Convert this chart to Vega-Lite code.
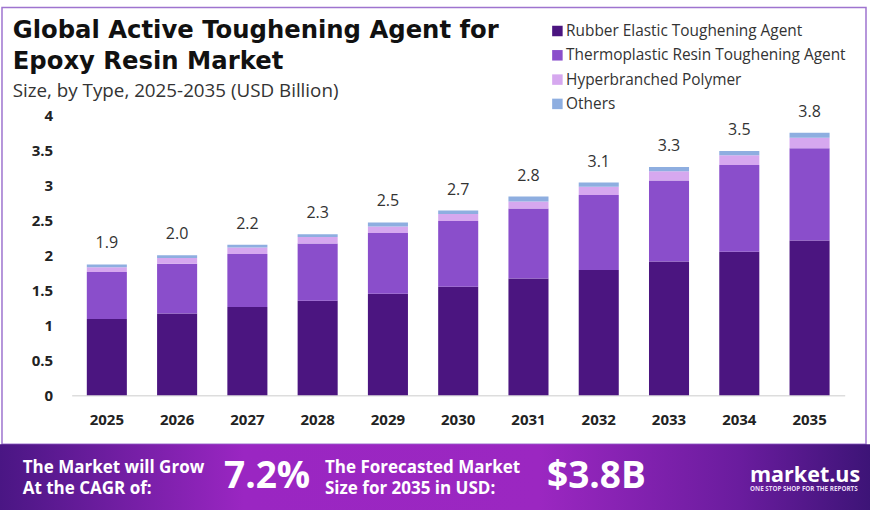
{
  "$schema": "https://vega.github.io/schema/vega-lite/v6.json",
  "width": 773,
  "height": 280,
  "autosize": "none",
  "padding": {"left": 71.7, "top": 115.3, "right": 25.3, "bottom": 128.7},
  "background": "white",
  "config": {
    "view": {"stroke": null},
    "font": "Open Sans",
    "axisY": {"labelOverlap": false, "labelFontSize": 15, "labelFontWeight": "bold", "labelColor": "#222222", "labelPadding": 19, "grid": false, "domain": false, "ticks": false}
  },
  "title": {
    "text": ["Global Active Toughening Agent for", "Epoxy Resin Market"],
    "subtitle": "Size, by Type, 2025-2035 (USD Billion)",
    "anchor": "start",
    "frame": "group",
    "dx": -59,
    "dy": 104,
    "fontSize": 24.3,
    "fontWeight": "bold",
    "font": "DejaVu Sans",
    "color": "#111111",
    "lineHeight": 31,
    "subtitleFontSize": 18.8,
    "subtitleFont": "Open Sans",
    "subtitleColor": "#333333",
    "subtitlePadding": 8,
    "offset": 10
  },
  "datasets": {
    "segments": [
      {"year": "2025", "type": "Rubber Elastic Toughening Agent", "value": 1.09},
      {"year": "2025", "type": "Thermoplastic Resin Toughening Agent", "value": 0.67},
      {"year": "2025", "type": "Hyperbranched Polymer", "value": 0.07},
      {"year": "2025", "type": "Others", "value": 0.04},
      {"year": "2026", "type": "Rubber Elastic Toughening Agent", "value": 1.17},
      {"year": "2026", "type": "Thermoplastic Resin Toughening Agent", "value": 0.71},
      {"year": "2026", "type": "Hyperbranched Polymer", "value": 0.08},
      {"year": "2026", "type": "Others", "value": 0.04},
      {"year": "2027", "type": "Rubber Elastic Toughening Agent", "value": 1.26},
      {"year": "2027", "type": "Thermoplastic Resin Toughening Agent", "value": 0.76},
      {"year": "2027", "type": "Hyperbranched Polymer", "value": 0.09},
      {"year": "2027", "type": "Others", "value": 0.04},
      {"year": "2028", "type": "Rubber Elastic Toughening Agent", "value": 1.35},
      {"year": "2028", "type": "Thermoplastic Resin Toughening Agent", "value": 0.82},
      {"year": "2028", "type": "Hyperbranched Polymer", "value": 0.09},
      {"year": "2028", "type": "Others", "value": 0.04},
      {"year": "2029", "type": "Rubber Elastic Toughening Agent", "value": 1.45},
      {"year": "2029", "type": "Thermoplastic Resin Toughening Agent", "value": 0.87},
      {"year": "2029", "type": "Hyperbranched Polymer", "value": 0.09},
      {"year": "2029", "type": "Others", "value": 0.06},
      {"year": "2030", "type": "Rubber Elastic Toughening Agent", "value": 1.55},
      {"year": "2030", "type": "Thermoplastic Resin Toughening Agent", "value": 0.94},
      {"year": "2030", "type": "Hyperbranched Polymer", "value": 0.10},
      {"year": "2030", "type": "Others", "value": 0.05},
      {"year": "2031", "type": "Rubber Elastic Toughening Agent", "value": 1.67},
      {"year": "2031", "type": "Thermoplastic Resin Toughening Agent", "value": 1.00},
      {"year": "2031", "type": "Hyperbranched Polymer", "value": 0.10},
      {"year": "2031", "type": "Others", "value": 0.07},
      {"year": "2032", "type": "Rubber Elastic Toughening Agent", "value": 1.79},
      {"year": "2032", "type": "Thermoplastic Resin Toughening Agent", "value": 1.07},
      {"year": "2032", "type": "Hyperbranched Polymer", "value": 0.12},
      {"year": "2032", "type": "Others", "value": 0.06},
      {"year": "2033", "type": "Rubber Elastic Toughening Agent", "value": 1.91},
      {"year": "2033", "type": "Thermoplastic Resin Toughening Agent", "value": 1.16},
      {"year": "2033", "type": "Hyperbranched Polymer", "value": 0.13},
      {"year": "2033", "type": "Others", "value": 0.06},
      {"year": "2034", "type": "Rubber Elastic Toughening Agent", "value": 2.05},
      {"year": "2034", "type": "Thermoplastic Resin Toughening Agent", "value": 1.24},
      {"year": "2034", "type": "Hyperbranched Polymer", "value": 0.14},
      {"year": "2034", "type": "Others", "value": 0.06},
      {"year": "2035", "type": "Rubber Elastic Toughening Agent", "value": 2.21},
      {"year": "2035", "type": "Thermoplastic Resin Toughening Agent", "value": 1.32},
      {"year": "2035", "type": "Hyperbranched Polymer", "value": 0.15},
      {"year": "2035", "type": "Others", "value": 0.07}
    ],
    "totals": [
      {"year": "2025", "total": 1.87, "label": "1.9"},
      {"year": "2026", "total": 2.00, "label": "2.0"},
      {"year": "2027", "total": 2.15, "label": "2.2"},
      {"year": "2028", "total": 2.30, "label": "2.3"},
      {"year": "2029", "total": 2.47, "label": "2.5"},
      {"year": "2030", "total": 2.64, "label": "2.7"},
      {"year": "2031", "total": 2.84, "label": "2.8"},
      {"year": "2032", "total": 3.04, "label": "3.1"},
      {"year": "2033", "total": 3.26, "label": "3.3"},
      {"year": "2034", "total": 3.49, "label": "3.5"},
      {"year": "2035", "total": 3.75, "label": "3.8"}
    ],
    "frame": [{"part": "frame"}],
    "banner": [{"part": "banner"}],
    "bannerLabels": [
      {"slot": "a", "part": "banner", "text": "The Market will Grow\nAt the CAGR of:"},
      {"slot": "c", "part": "banner", "text": "The Forecasted Market\nSize for 2035 in USD:"}
    ],
    "bannerFigures": [
      {"slot": "b", "part": "banner", "text": "7.2%"},
      {"slot": "d", "part": "banner", "text": "$3.8B"}
    ],
    "brand": [{"slot": "e", "part": "banner", "text": "market.us"}],
    "tagline": [{"slot": "e", "part": "banner", "text": "ONE STOP SHOP FOR THE REPORTS"}]
  },
  "layer": [
    {
      "layer": [
        {
          "data": {"name": "segments"},
          "transform": [
            {"calculate": "indexof(['Rubber Elastic Toughening Agent', 'Thermoplastic Resin Toughening Agent', 'Hyperbranched Polymer', 'Others'], datum.type)", "as": "rank"}
          ],
          "mark": {"type": "bar"},
          "encoding": {
            "x": {
              "field": "year",
              "type": "ordinal",
              "scale": {"paddingInner": 0.43, "paddingOuter": 0.215},
              "axis": {
                "title": null,
                "labelAngle": 0,
                "labelFontSize": 15,
                "labelFontWeight": "bold",
                "labelColor": "#222222",
                "labelPadding": 17,
                "ticks": false,
                "domainColor": "#dddddd",
                "domainWidth": 1.5
              }
            },
            "y": {
              "field": "value",
              "type": "quantitative",
              "stack": "zero",
              "scale": {"domain": [0, 4], "nice": false},
              "axis": {
                "title": null,
                "values": [0, 0.5, 1, 1.5, 2, 2.5, 3, 3.5, 4],
                "format": "~g",
                "labelOverlap": false
              }
            },
            "color": {
              "field": "type",
              "type": "nominal",
              "sort": ["Rubber Elastic Toughening Agent", "Thermoplastic Resin Toughening Agent", "Hyperbranched Polymer", "Others"],
              "scale": {
                "domain": ["Rubber Elastic Toughening Agent", "Thermoplastic Resin Toughening Agent", "Hyperbranched Polymer", "Others"],
                "range": ["#4b1580", "#8a4ecb", "#d6a8ef", "#8eaee0"]
              },
              "legend": {
                "title": null,
                "orient": "none",
                "legendX": 478,
                "legendY": -92,
                "symbolType": "square",
                "symbolSize": 110,
                "symbolStrokeWidth": 0,
                "labelFontSize": 15.4,
                "labelColor": "#333333",
                "labelOffset": 1,
                "labelLimit": 0,
                "rowPadding": 7.3
              }
            },
            "order": {"field": "rank", "type": "quantitative", "sort": "ascending"}
          }
        },
        {
          "data": {"name": "totals"},
          "mark": {"type": "text", "dy": -16, "baseline": "alphabetic", "fontSize": 16, "color": "#333333"},
          "encoding": {
            "x": {"field": "year", "type": "ordinal"},
            "y": {
              "field": "total",
              "type": "quantitative",
              "axis": {
                "title": null,
                "values": [0, 0.5, 1, 1.5, 2, 2.5, 3, 3.5, 4],
                "format": "~g",
                "labelOverlap": false
              }
            },
            "text": {"field": "label"}
          }
        }
      ]
    },
    {
      "data": {"name": "frame"},
      "mark": {"type": "rect", "fill": null, "stroke": "#9e74cf", "strokeWidth": 1.5},
      "encoding": {
        "x": {"field": "part", "type": "nominal", "scale": {"range": [-69.7, 794.3], "paddingInner": 0, "paddingOuter": 0}, "axis": null},
        "y": {"field": "part", "type": "nominal", "scale": {"range": [-107.8, 329], "paddingInner": 0, "paddingOuter": 0}, "axis": null}
      }
    },
    {
      "data": {"name": "banner"},
      "mark": {
        "type": "rect",
        "fill": {
          "gradient": "linear",
          "x1": 0, "y1": 0, "x2": 1, "y2": 0,
          "stops": [
            {"offset": 0, "color": "#4a1684"},
            {"offset": 0.28, "color": "#9a26c2"},
            {"offset": 0.62, "color": "#9b27c1"},
            {"offset": 0.85, "color": "#6a1c9e"},
            {"offset": 1, "color": "#3d1477"}
          ]
        }
      },
      "encoding": {
        "x": {"field": "part", "type": "nominal", "scale": {"range": [-71.7, 798.3], "paddingInner": 0, "paddingOuter": 0}, "axis": null},
        "y": {"field": "part", "type": "nominal", "scale": {"range": [329, 394.7], "paddingInner": 0, "paddingOuter": 0}, "axis": null}
      }
    },
    {
      "data": {"name": "bannerLabels"},
      "mark": {"type": "text", "align": "left", "baseline": "middle", "lineBreak": "\n", "lineHeight": 21, "fontSize": 17, "fontWeight": "bold", "color": "white"},
      "encoding": {
        "x": {"field": "slot", "type": "nominal", "scale": {"type": "point", "range": [-49, 253.3], "padding": 0}, "axis": null},
        "y": {"field": "part", "type": "nominal", "scale": {"type": "point", "range": [352.2, 352.2], "padding": 0}, "axis": null},
        "text": {"field": "text"}
      }
    },
    {
      "data": {"name": "bannerFigures"},
      "mark": {"type": "text", "align": "left", "baseline": "alphabetic", "fontSize": 37, "fontWeight": "bold", "color": "white"},
      "encoding": {
        "x": {"field": "slot", "type": "nominal", "scale": {"type": "point", "range": [152.3, 475.3], "padding": 0}, "axis": null},
        "y": {"field": "part", "type": "nominal", "scale": {"type": "point", "range": [372.7, 372.7], "padding": 0}, "axis": null},
        "text": {"field": "text"}
      }
    },
    {
      "data": {"name": "brand"},
      "mark": {"type": "text", "align": "left", "baseline": "alphabetic", "fontSize": 21.5, "fontWeight": "bold", "color": "white"},
      "encoding": {
        "x": {"field": "slot", "type": "nominal", "scale": {"type": "point", "range": [678.3, 678.3], "padding": 0}, "axis": null},
        "y": {"field": "part", "type": "nominal", "scale": {"type": "point", "range": [366.4, 366.4], "padding": 0}, "axis": null},
        "text": {"field": "text"}
      }
    },
    {
      "data": {"name": "tagline"},
      "mark": {"type": "text", "align": "left", "baseline": "alphabetic", "fontSize": 6.3, "fontWeight": "bold", "color": "#e8d8f4"},
      "encoding": {
        "x": {"field": "slot", "type": "nominal", "scale": {"type": "point", "range": [678.3, 678.3], "padding": 0}, "axis": null},
        "y": {"field": "part", "type": "nominal", "scale": {"type": "point", "range": [375.5, 375.5], "padding": 0}, "axis": null},
        "text": {"field": "text"}
      }
    }
  ],
  "resolve": {"scale": {"x": "independent", "y": "independent"}}
}
